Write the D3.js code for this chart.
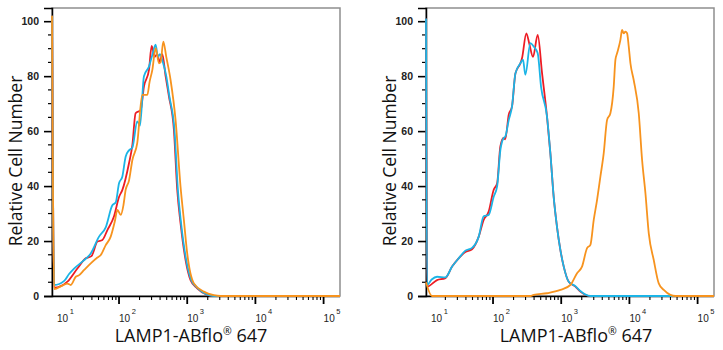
<!DOCTYPE html>
<html>
<head>
<meta charset="utf-8">
<script src="https://cdn.jsdelivr.net/npm/d3@7/dist/d3.min.js"></script>
<style>
  body { margin: 0; background: #fff; }
  svg { display: block; }
</style>
</head>
<body>
<div id="chart"></div>
<script>
// ---- axis ticks ----
const xDecades = [10, 100, 1000, 10000, 100000];
const xDecadeExp = ["1", "2", "3", "4", "5"];
const yMajor = [0, 20, 40, 60, 80, 100];
const yMinor = [5, 10, 15, 25, 30, 35, 45, 50, 55, 65, 70, 75, 85, 90, 95];

const yTitle = "Relative Cell Number";
const xTitleMain = "LAMP1-ABflo";
const xTitleSup = "\u00AE";
const xTitleEnd = " 647";

// ---- left histogram (fluorescence, relative count) ----
const leftRedX = [10.4, 11.2, 17.5, 24.5, 32.5, 39.4, 48.2, 57, 67.5, 84.5, 100, 112, 140, 157, 175, 208, 232, 275, 301, 333, 364, 394, 431, 482, 540, 638, 714, 798, 946, 1119, 1400, 1963, 2455, 175000];
const leftRedY = [102, 3, 5.2, 10, 13.7, 14.5, 19.8, 20.4, 24, 29, 36, 38.6, 48.3, 55, 66.5, 67.7, 76.2, 82.3, 91, 87, 88, 85, 88, 80, 72.6, 60.4, 38.6, 26.5, 13.1, 5.8, 2.8, 0.4, 0, 0];

const leftCyanX = [10.4, 11.2, 15.7, 18.5, 21.9, 29, 38.5, 50.9, 63.8, 79.8, 89.3, 100, 112, 125, 140, 157, 185, 203, 232, 275, 308, 344, 372, 398, 441, 493, 548, 650, 730, 817, 966, 1146, 1432, 2004, 2455, 175000];
const leftCyanY = [102, 4, 5.5, 8, 10, 12.5, 15.5, 21.6, 25, 33, 34, 41, 43.5, 50.7, 53, 54, 63.5, 62, 80, 83.5, 87.7, 91.5, 87, 88, 85, 80, 72.6, 60.4, 38.6, 26, 13.1, 5.8, 2.8, 0.4, 0, 0];

const leftOrangeX = [10.4, 11.2, 14.8, 17.5, 19.6, 23.2, 26, 30.8, 38.5, 48.2, 54, 63.8, 75.5, 86.5, 94.6, 106, 116, 125, 140, 157, 185, 219, 260, 281, 308, 344, 385, 407, 446, 493, 570, 675, 798, 893, 1000, 1253, 1754, 2455, 3076, 175000];
const leftOrangeY = [102, 2.5, 3.8, 4.5, 4, 7, 7.6, 9.5, 11.9, 14, 14.9, 18.5, 21.6, 27, 31.3, 29.5, 33, 38.6, 42, 49.5, 55.6, 73.2, 73.2, 78, 82.3, 90.2, 84.7, 85, 92.6, 87, 78.6, 64, 39.8, 27.7, 15.5, 4.6, 1.6, 0.3, 0, 0];

// ---- right histogram ----
const rightRedX = [10.4, 10.8, 15.1, 20, 25.1, 31.3, 39.3, 49.2, 61.7, 72.9, 86.3, 102, 115, 128, 143, 151, 170, 190, 213, 252, 266, 308, 339, 386, 452, 524, 619, 693, 776, 869, 973, 1089, 1288, 1614, 1910, 2679, 175000];
const rightRedY = [101, 3.4, 5.8, 6.5, 10.7, 13.7, 16, 17, 21.6, 27.7, 30.7, 38.6, 41, 54.4, 57.5, 57, 66, 69, 81, 84.7, 86.5, 95.6, 92, 87, 95, 81, 65.3, 52, 36, 25, 16.7, 10.7, 5.2, 3.4, 1.6, 0, 0];

const rightCyanX = [10.4, 10.8, 12.6, 15.1, 20, 25.1, 31.3, 39.3, 49.2, 61.7, 72.9, 86.3, 102, 115, 128, 143, 151, 170, 190, 213, 252, 275, 298, 353, 395, 452, 507, 619, 693, 776, 869, 973, 1089, 1288, 1614, 1910, 2239, 2679, 175000];
const rightCyanY = [101, 4, 6, 7, 6.8, 10.7, 13.7, 16.5, 17.5, 21.6, 29, 29.5, 36, 40, 53, 57.5, 58, 64, 69, 81, 84.7, 86, 80.5, 92, 90.8, 88.3, 76, 65.3, 52, 36, 25, 16.7, 10.7, 5.2, 3.6, 1.8, 0.6, 0, 0];

const rightOrangeX = [10.4, 12.7, 355, 395, 619, 973, 1361, 1706, 2018, 2393, 2679, 2999, 3357, 3758, 4198, 4699, 5260, 5888, 6237, 6592, 7379, 7798, 8260, 8730, 9247, 9772, 10351, 11560, 13710, 15350, 17180, 19230, 22750, 26920, 31920, 39900, 47320, 175000];
const rightOrangeY = [5, 0, 0, 0.4, 1, 2.2, 4, 8.3, 10.7, 17.4, 18.6, 27.7, 35, 43.5, 51.9, 64, 66.5, 76.2, 86, 88.3, 93.2, 96.8, 95.6, 96.2, 95.6, 90.8, 84.7, 78.6, 66.5, 49.5, 37.4, 22.8, 13.1, 4.6, 2.2, 0.4, 0, 0];

const colorRed = "#ed1c24";
const colorCyan = "#1bb4e6";
const colorOrange = "#f7931e";

const panels = [
  {
    left: 52, titleX: 191,
    series: [
      { x: leftRedX, y: leftRedY, color: colorRed },
      { x: leftCyanX, y: leftCyanY, color: colorCyan },
      { x: leftOrangeX, y: leftOrangeY, color: colorOrange }
    ]
  },
  {
    left: 426, titleX: 576,
    series: [
      { x: rightRedX, y: rightRedY, color: colorRed },
      { x: rightCyanX, y: rightCyanY, color: colorCyan },
      { x: rightOrangeX, y: rightOrangeY, color: colorOrange }
    ]
  }
];

const W = 723, H = 350;
const plotW = 288, plotTop = 8, plotBottom = 296;
const tickFont = "'Liberation Sans', Arial, sans-serif";
const titleFont = "'Open Sans', 'Noto Sans', sans-serif";

const svg = d3.select("#chart")
  .append("svg")
  .attr("width", W)
  .attr("height", H);

panels.forEach(function(p, i) {
  const x = d3.scaleLog().domain([10.4, 174000]).range([p.left, p.left + plotW]);
  const y = d3.scaleLinear().domain([0, 104.8]).range([plotBottom, plotTop]);

  const g = svg.append("g");

  // frame (top and right are grey)
  g.append("rect")
    .attr("x", p.left)
    .attr("y", plotTop)
    .attr("width", plotW)
    .attr("height", plotBottom - plotTop)
    .attr("fill", "none")
    .attr("stroke", "#8e8e8e")
    .attr("stroke-width", 1.5);

  // clip for curves
  g.append("clipPath")
    .attr("id", "clip" + i)
    .append("rect")
    .attr("x", p.left - 1)
    .attr("y", plotTop)
    .attr("width", plotW + 1)
    .attr("height", plotBottom - plotTop + 1);

  // y axis
  const yAxis = d3.axisLeft(y).tickValues(yMajor).tickSize(8).tickFormat(d3.format("d"));
  const ya = g.append("g")
    .attr("transform", "translate(" + p.left + ",0)")
    .call(yAxis);
  ya.select(".domain").attr("stroke", "#000").attr("stroke-width", 1.5);
  ya.selectAll(".tick line").attr("stroke", "#000").attr("stroke-width", 1.6);
  ya.selectAll(".tick text")
    .attr("x", -13)
    .attr("font-family", tickFont)
    .attr("font-size", 10.5)
    .attr("font-weight", "bold")
    .attr("fill", "#222");

  g.append("g")
    .selectAll("line")
    .data(yMinor)
    .enter()
    .append("line")
    .attr("x1", p.left - 4)
    .attr("x2", p.left)
    .attr("y1", function(d) { return y(d); })
    .attr("y2", function(d) { return y(d); })
    .attr("stroke", "#000")
    .attr("stroke-width", 1.2);

  // x axis (major + minor log ticks)
  const xMinor = [];
  xDecades.forEach(function(d) {
    for (let k = 2; k <= 9; k++) {
      if (d * k < 174000) xMinor.push(d * k);
    }
  });

  g.append("line")
    .attr("x1", p.left)
    .attr("x2", p.left + plotW)
    .attr("y1", plotBottom + 0.5)
    .attr("y2", plotBottom + 0.5)
    .attr("stroke", "#000")
    .attr("stroke-width", 1.5);

  g.append("g")
    .selectAll("line")
    .data(xMinor)
    .enter()
    .append("line")
    .attr("x1", function(d) { return x(d); })
    .attr("x2", function(d) { return x(d); })
    .attr("y1", plotBottom)
    .attr("y2", plotBottom + 4)
    .attr("stroke", "#000")
    .attr("stroke-width", 1.1);

  g.append("g")
    .selectAll("line")
    .data(xDecades.filter(function(d) { return x(d) >= p.left; }))
    .enter()
    .append("line")
    .attr("x1", function(d) { return x(d); })
    .attr("x2", function(d) { return x(d); })
    .attr("y1", plotBottom)
    .attr("y2", plotBottom + 8)
    .attr("stroke", "#000")
    .attr("stroke-width", 1.8);

  const xl = g.append("g")
    .selectAll("text")
    .data(xDecades)
    .enter()
    .append("text")
    .attr("x", function(d) { return Math.max(x(d), p.left + 5); })
    .attr("y", 322)
    .attr("font-family", tickFont)
    .attr("font-size", 10)
    .attr("fill", "#222");
  xl.append("tspan").text("10");
  xl.append("tspan")
    .attr("dx", 1.5)
    .attr("dy", -8)
    .attr("font-size", 7.5)
    .text(function(d, j) { return xDecadeExp[j]; });

  // curves
  const line = d3.line()
    .x(function(d) { return x(d[0]); })
    .y(function(d) { return y(d[1]); })
    .curve(d3.curveMonotoneX);

  const cg = g.append("g").attr("clip-path", "url(#clip" + i + ")");
  p.series.forEach(function(s) {
    cg.append("path")
      .datum(d3.zip(s.x, s.y))
      .attr("d", line)
      .attr("fill", "none")
      .attr("stroke", s.color)
      .attr("stroke-width", 1.8)
      .attr("stroke-linejoin", "round");
  });

  // titles
  g.append("text")
    .attr("transform", "translate(" + (p.left - 30) + "," + ((plotTop + plotBottom) / 2 + 9) + ") rotate(-90)")
    .attr("text-anchor", "middle")
    .attr("font-family", titleFont)
    .attr("font-size", 17.5)
    .attr("fill", "#111")
    .text(yTitle);

  const xt = g.append("text")
    .attr("x", p.titleX)
    .attr("y", 342)
    .attr("text-anchor", "middle")
    .attr("font-family", titleFont)
    .attr("font-size", 18)
    .attr("fill", "#111");
  xt.append("tspan").text(xTitleMain);
  xt.append("tspan").attr("dy", -7).attr("font-size", 10.5).text(xTitleSup);
  xt.append("tspan").attr("dy", 7).text(xTitleEnd);
});
</script>
</body>
</html>
